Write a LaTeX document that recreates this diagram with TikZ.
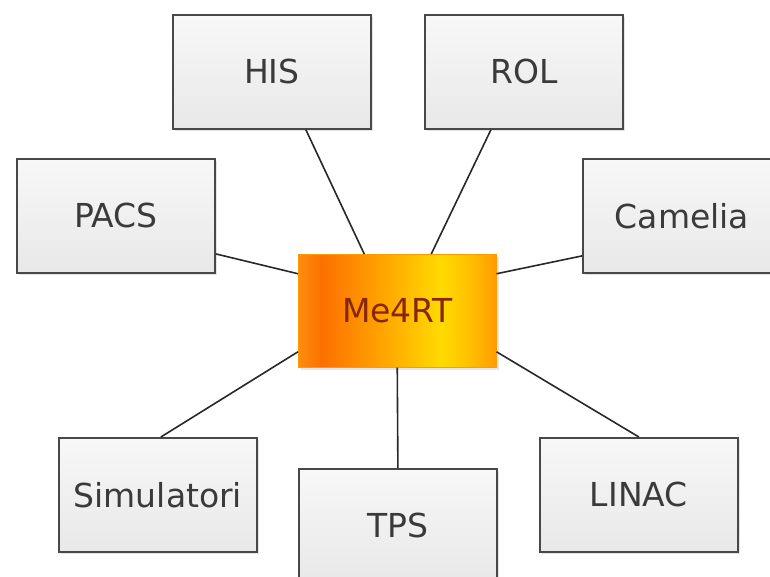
\documentclass[tikz,border=0pt]{standalone}
\usepackage{fontspec}
\setmainfont{DejaVu Sans}
\usetikzlibrary{shadows}
\definecolor{mo1}{RGB}{255,140,15}
\definecolor{mo2}{RGB}{252,112,0}
\definecolor{mo4}{RGB}{255,160,0}
\definecolor{my}{RGB}{255,218,0}
\definecolor{mo3}{RGB}{255,155,0}
\definecolor{boxline}{RGB}{72,72,72}
\definecolor{txt}{RGB}{58,58,58}
\definecolor{metxt}{RGB}{135,38,0}
\definecolor{conn}{RGB}{40,40,40}
\pgfdeclarehorizontalshading{meshade}{100bp}{color(0bp)=(mo1); color(25bp)=(mo1); color(31bp)=(mo2); color(45bp)=(mo4); color(61bp)=(my); color(68bp)=(my!60!mo3); color(75bp)=(mo3); color(100bp)=(mo3)}
\tikzset{
  sysbox/.style={draw=boxline, line width=1.8pt, top color=white!97!black, bottom color=black!9,
    minimum width=198pt, minimum height=114pt, inner sep=0pt, anchor=north west,
    text=txt, font=\fontsize{33}{39}\selectfont,
    drop shadow={opacity=0.22, shadow xshift=2.5pt, shadow yshift=-2.5pt}},
  corebox/.style={draw=mo3, line width=0.5pt, shading=meshade,
    minimum width=198pt, minimum height=113pt, inner sep=0pt, anchor=north west,
    text=metxt, font=\fontsize{33}{39}\selectfont,
    drop shadow={opacity=0.2, shadow xshift=2.5pt, shadow yshift=-2.5pt}},
  link/.style={draw=conn, line width=1.6pt}
}
\begin{document}
\begin{tikzpicture}[x=1pt,y=-1pt]
\useasboundingbox (0,0) rectangle (770,576);
\clip (0,0) rectangle (770,576);
\node[sysbox] (his) at (172,14) {HIS};
\node[sysbox] (rol) at (424,14) {ROL};
\node[sysbox] (pacs) at (16,158) {PACS};
\node[sysbox] (cam) at (582,158) {Camelia};
\node[sysbox] (sim) at (58,437) {Simulatori};
\node[sysbox] (tps) at (298,468) {TPS};
\node[sysbox] (linac) at (539,437) {LINAC};
\node[corebox] (me) at (298,254) {Me4RT};
\draw[link] ([xshift=34pt]his.south) -- ([xshift=-33pt]me.north);
\draw[link] ([xshift=-33pt]rol.south) -- ([xshift=34pt]me.north);
\draw[link] ([yshift=-38pt]pacs.east) -- ([yshift=37pt]me.west);
\draw[link] ([yshift=-40pt]cam.west) -- ([yshift=37pt]me.east);
\draw[link] ([xshift=3pt]sim.north) -- ([yshift=-41pt]me.west);
\draw[link] (tps.north) -- (me.south);
\draw[link] (linac.north) -- ([yshift=-41pt]me.east);
\end{tikzpicture}
\end{document}
